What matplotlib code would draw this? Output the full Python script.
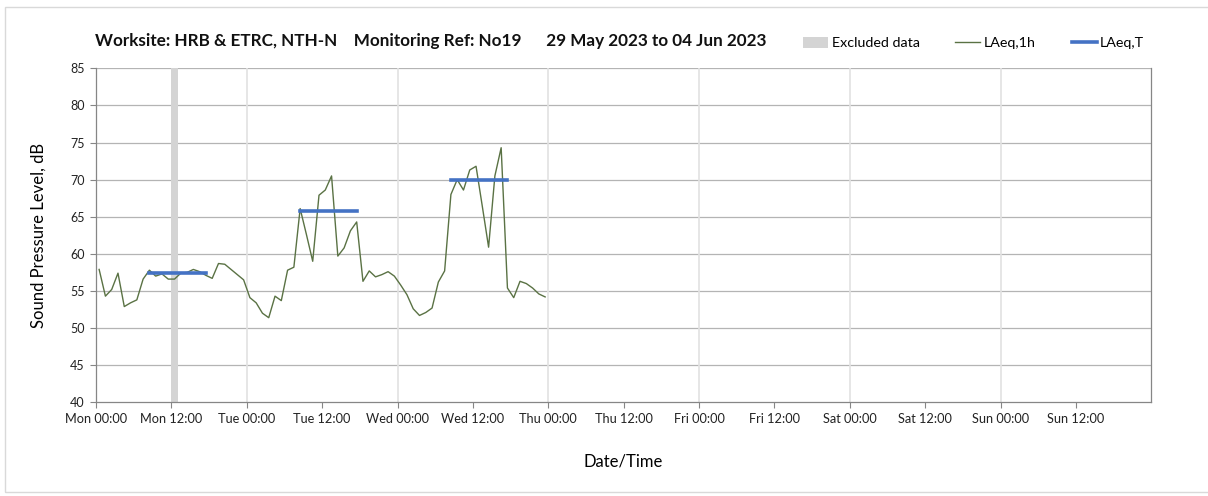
import numpy as np
import matplotlib
matplotlib.use("Agg")
import matplotlib.pyplot as plt
from matplotlib.patches import Patch, Rectangle
from matplotlib.lines import Line2D

# hourly LAeq,1h values (dB) from Mon 00:00, one per hour
laeq_1h = [
    57.9, 54.3, 55.2, 57.4, 52.9, 53.4, 53.8, 56.6, 57.8, 57.0, 57.3, 56.6,
    56.6, 57.4, 57.5, 57.9, 57.6, 57.1, 56.7, 58.7, 58.6, 57.9, 57.2, 56.5,
    54.1, 53.4, 52.0, 51.4, 54.3, 53.7, 57.8, 58.2, 66.1, 62.6, 59.0, 67.9,
    68.6, 70.5, 59.7, 60.8, 63.1, 64.3, 56.3, 57.7, 56.9, 57.2, 57.6, 57.0,
    55.8, 54.5, 52.6, 51.7, 52.1, 52.7, 56.2, 57.7, 68.0, 70.0, 68.6, 71.3,
    71.8, 66.4, 60.9, 70.5, 74.3, 55.4, 54.1, 56.3, 56.0, 55.4, 54.6, 54.2,
]

# LAeq,T over the daytime periods (hours since Mon 00:00)
period_start = [8, 32, 56]
period_end = [18, 42, 66]
laeq_t = [57.4, 65.8, 69.9]

# excluded data window (hours since Mon 00:00)
excluded_start = [12]
excluded_end = [13]

days = ["Mon", "Tue", "Wed", "Thu", "Fri", "Sat", "Sun"]
tick_labels = [f"{d} {t}" for d in days for t in ("00:00", "12:00")]

title = ("Worksite: HRB & ETRC, NTH-N    Monitoring Ref: No19      "
         "29 May 2023 to 04 Jun 2023")

plt.rcParams["font.family"] = ["Lato", "DejaVu Sans"]

LINE_GREEN = "#5a7244"
BLUE = "#4472c4"
GRID = "#b4b4b4"

fig = plt.figure(figsize=(12.08, 4.96), dpi=100)
ax = fig.add_axes([96 / 1208, 1 - 402.3 / 496, (1151.3 - 96) / 1208, (402.3 - 68.3) / 496])

hours = np.arange(len(laeq_1h)) + 0.5

for s, e in zip(excluded_start, excluded_end):
    ax.axvspan(s, e, color="#d4d4d4", lw=0, zorder=1)

ax.plot(hours, laeq_1h, color=LINE_GREEN, lw=1.0, zorder=3)

for s, e, v in zip(period_start, period_end, laeq_t):
    ax.plot([s + 0.5, e - 0.5], [v, v], color=BLUE, lw=2.6,
            solid_capstyle="projecting", zorder=4)

ax.set_xlim(0, 24 * 7)
ax.set_ylim(40, 85)
ax.set_yticks(np.arange(40, 86, 5))
ax.set_xticks(np.arange(0, 24 * 7, 12))
ax.set_xticklabels(tick_labels, fontsize=9.2, color="#222222")
ax.tick_params(axis="y", labelsize=9, length=4, width=0.8,
               pad=4, color="#868686")
ax.tick_params(axis="x", length=4, width=0.8, pad=4, color="#868686")
for lbl in ax.get_yticklabels():
    lbl.set_color("#222222")

# horizontal grid every 5 dB, vertical grid only at midnight
for y in np.arange(45, 86, 5):
    ax.axhline(y, color=GRID, lw=0.9, zorder=0)
for d in range(1, 7):
    ax.axvline(24 * d, color="#e2e2e2", lw=1.2, zorder=0)

for side in ("left", "bottom", "right"):
    ax.spines[side].set_color("#868686")
    ax.spines[side].set_linewidth(0.9)
ax.spines["top"].set_visible(False)

ax.set_ylabel("Sound Pressure Level, dB", fontsize=12, labelpad=17)
ax.set_xlabel("Date/Time", fontsize=12, labelpad=20)

fig.text(95 / 1208, 1 - 41 / 496, title, fontsize=12.3, fontweight="bold",
         va="center", ha="left", color="#111111")

handles = [
    Patch(facecolor="#d4d4d4", edgecolor="none"),
    Line2D([], [], color=LINE_GREEN, lw=1.0),
    Line2D([], [], color=BLUE, lw=2.6),
]
fig.legend(handles, ["Excluded data", "LAeq,1h", "LAeq,T"],
           loc="center left", bbox_to_anchor=(803 / 1208, 1 - 43 / 496),
           ncol=3, frameon=False, fontsize=10.3, handlelength=1.75,
           handleheight=0.8, handletextpad=0.25, columnspacing=2.5,
           borderaxespad=0, borderpad=0)

# thin frame round the chart
fig.patches.append(Rectangle((5 / 1208, 1 - 492 / 496), 1.2, (492 - 7) / 496,
                             transform=fig.transFigure, fill=False,
                             edgecolor="#d9d9d9", lw=1.0))

fig.savefig("out.png", dpi=100)
